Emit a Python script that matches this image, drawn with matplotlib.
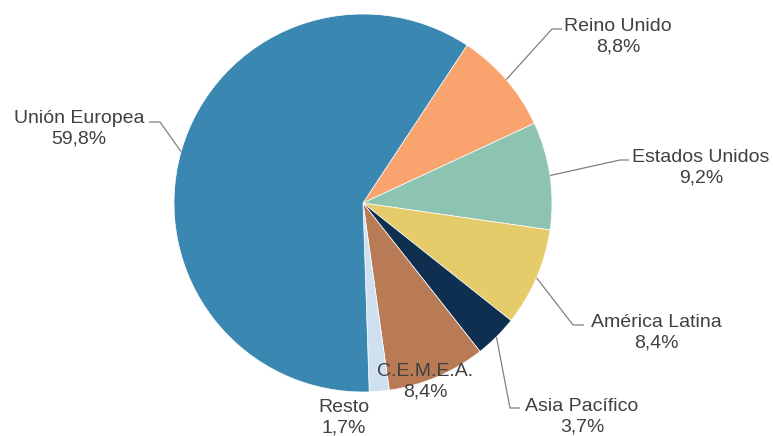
import numpy as np
import matplotlib.pyplot as plt

# datos
regiones = ['Reino Unido', 'Estados Unidos', 'América Latina', 'Asia Pacífico',
            'C.E.M.E.A.', 'Resto', 'Unión Europea']
porcentajes = [8.8, 9.2, 8.4, 3.7, 8.4, 1.7, 59.8]
colores = ['#F9A46E', '#8CC4B1', '#E6CB6B', '#0E2F4F', '#B97B56', '#CFE1F0', '#3A88B2']

plt.rcParams['font.family'] = ['Liberation Sans', 'DejaVu Sans']

fig = plt.figure(figsize=(7.73, 4.36), dpi=100)
ax = fig.add_axes([0, 0, 1, 1])

cx, cy, r = 363, 233, 189
wedges, _ = ax.pie(porcentajes, colors=colores, startangle=56.6, counterclock=False,
                   center=(cx, cy), radius=r, frame=True,
                   wedgeprops=dict(edgecolor='white', linewidth=0.5))
ax.set_xlim(0, 773)
ax.set_ylim(0, 436)
ax.axis('off')

# posición de las etiquetas (centro del texto), codo de la línea guía, fin del tramo horizontal
etiquetas = {
    'Unión Europea': ((79, 307), (160, 314), 149),
    'Reino Unido': ((618, 399), (552, 407), 562),
    'Estados Unidos': ((701, 268), (620, 276), 629),
    'América Latina': ((656, 103), (573, 111), 584),
    'Asia Pacífico': ((582, 19), (510, 28), 520),
    'C.E.M.E.A.': ((425, 54), None, None),
    'Resto': ((344, 18), None, None),
}

color_texto = '#404040'
for w, nombre, p in zip(wedges, regiones, porcentajes):
    (tx, ty), codo, fin = etiquetas[nombre]
    txt = nombre + '\n' + f'{p:.1f}%'.replace('.', ',')
    ax.text(tx, ty, txt, ha='center', va='center', fontsize=14, color=color_texto,
            linespacing=1.25)
    if codo is not None:
        ang = np.deg2rad((w.theta1 + w.theta2) / 2)
        ex, ey = cx + r * np.cos(ang), cy + r * np.sin(ang)
        ax.plot([ex, codo[0], fin], [ey, codo[1], codo[1]], color='#808080', lw=0.9,
                solid_capstyle='butt')

fig.savefig('out.png', dpi=100)
